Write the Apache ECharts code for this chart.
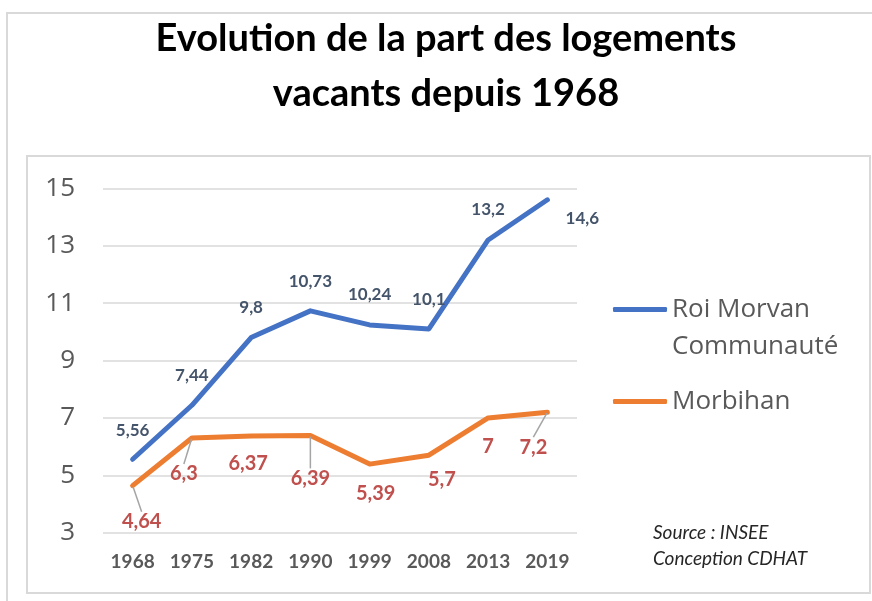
<!DOCTYPE html>
<html>
<head>
<meta charset="utf-8">
<script src="https://cdn.jsdelivr.net/npm/echarts@6/dist/echarts.min.js"></script>
<style>
  html, body { margin: 0; padding: 0; background: #ffffff; }
  #chart { width: 872px; height: 601px; }
</style>
</head>
<body>
<div id="chart"></div>
<script>
// ---- data ----
const years = ['1968', '1975', '1982', '1990', '1999', '2008', '2013', '2019'];
const roiMorvan = [5.56, 7.44, 9.8, 10.73, 10.24, 10.1, 13.2, 14.6];
const morbihan = [4.64, 6.3, 6.37, 6.39, 5.39, 5.7, 7, 7.2];
const yTicks = [3, 5, 7, 9, 11, 13, 15];
const seriesNames = ['Roi Morvan Communauté', 'Morbihan'];

// ---- label placement (style config) ----
const blueLabelShift = [[0, -29], [0, -30], [0, -30], [0, -29], [0, -30], [0, -29], [0, -30], [35, 19]];
const orangeLabelShift = [[9, 36], [-8, 36], [-3, 28], [0, 43], [6, 29], [13, 24], [0, 29], [-14, 35]];
const orangeLeader = [true, true, false, true, false, false, false, true];

const fmt = p => String(p.value).replace('.', ',');

const chart = echarts.init(document.getElementById('chart'), null, { renderer: 'canvas' });

const orangeData = morbihan.map((v, i) => ({
  value: v,
  labelLine: { show: orangeLeader[i], lineStyle: { color: '#A5A5A5', width: 1.5 } }
}));

chart.setOption({
  animation: false,
  backgroundColor: '#ffffff',
  title: {
    text: 'Evolution de la part des logements\nvacants depuis 1968',
    left: 446,
    top: 11,
    textAlign: 'center',
    padding: 0,
    textStyle: {
      fontFamily: 'Lato',
      fontWeight: 'bold',
      fontSize: 38,
      lineHeight: 55,
      color: '#000000'
    }
  },
  graphic: [
    {
      type: 'rect', silent: true, z: -10,
      shape: { x: 7, y: 13, width: 890, height: 620 },
      style: { fill: 'none', stroke: '#D9D9D9', lineWidth: 2 }
    },
    {
      type: 'rect', silent: true, z: -10,
      shape: { x: 27, y: 156, width: 843, height: 437 },
      style: { fill: 'none', stroke: '#D9D9D9', lineWidth: 2 }
    },
    {
      type: 'text', left: 653, top: 520, silent: true,
      style: {
        text: 'Source : INSEE\nConception CDHAT',
        fontFamily: 'Lato', fontStyle: 'italic', fontSize: 19,
        lineHeight: 26, fill: '#262626'
      }
    }
  ],
  legend: [
    {
      data: [seriesNames[0]],
      left: 613, top: 254, padding: 0,
      icon: 'roundRect', itemWidth: 54, itemHeight: 5,
      // leading blank line keeps the icon level with the first text line
      formatter: n => '\n' + n.replace(' Communauté', '\nCommunauté'),
      textStyle: { fontFamily: 'Open Sans', fontSize: 26, lineHeight: 37, color: '#595959' }
    },
    {
      data: [seriesNames[1]],
      left: 613, top: 383, padding: 0,
      icon: 'roundRect', itemWidth: 54, itemHeight: 5,
      textStyle: { fontFamily: 'Open Sans', fontSize: 26, lineHeight: 37, color: '#595959' }
    }
  ],
  grid: { left: 103, right: 295, top: 188.3, bottom: 68.3, containLabel: false },
  xAxis: {
    type: 'category',
    data: years,
    boundaryGap: true,
    axisLine: { show: false },
    axisTick: { show: false },
    axisLabel: {
      margin: 20,
      fontFamily: 'Lato', fontWeight: 'bold', fontSize: 19, color: '#595959'
    }
  },
  yAxis: {
    type: 'value',
    min: yTicks[0],
    max: yTicks[yTicks.length - 1],
    interval: yTicks[1] - yTicks[0],
    axisLine: { show: false },
    axisTick: { show: false },
    splitLine: { lineStyle: { color: '#D9D9D9', width: 1.5 } },
    axisLabel: {
      margin: 28,
      fontFamily: 'Open Sans', fontSize: 26, color: '#595959'
    }
  },
  series: [
    {
      name: seriesNames[0],
      type: 'line',
      data: roiMorvan,
      color: '#4472C4',
      symbol: 'circle', symbolSize: 2, showSymbol: true,
      lineStyle: { width: 5, cap: 'round', join: 'round' },
      label: {
        show: true, position: 'inside', formatter: fmt,
        fontFamily: 'Lato', fontWeight: 'bold', fontSize: 17, color: '#44546A'
      },
      labelLayout: p => ({ dx: blueLabelShift[p.dataIndex][0], dy: blueLabelShift[p.dataIndex][1] }),
      z: 3
    },
    {
      name: seriesNames[1],
      type: 'line',
      data: orangeData,
      color: '#ED7D31',
      symbol: 'circle', symbolSize: 2, showSymbol: true,
      lineStyle: { width: 5, cap: 'round', join: 'round' },
      label: {
        show: true, position: 'inside', formatter: fmt,
        fontFamily: 'Lato', fontWeight: 'bold', fontSize: 20, color: '#C0504D'
      },
      labelLine: { show: false, lineStyle: { color: '#A5A5A5', width: 1.5 } },
      labelLayout: p => ({ dx: orangeLabelShift[p.dataIndex][0], dy: orangeLabelShift[p.dataIndex][1] }),
      z: 3
    }
  ]
});
</script>
</body>
</html>
